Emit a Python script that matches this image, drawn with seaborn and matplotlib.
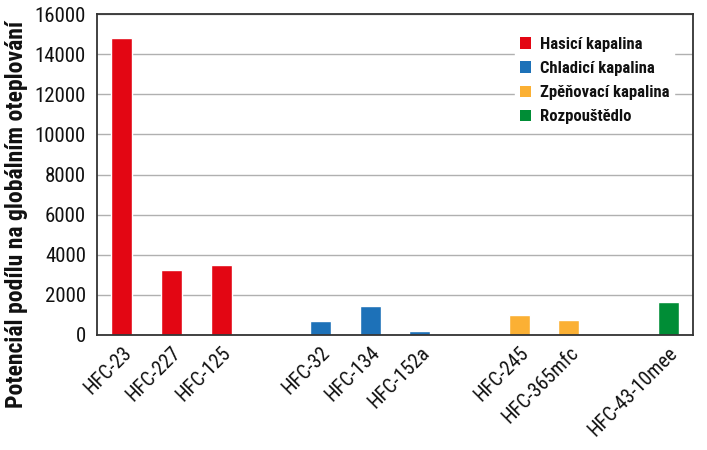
import matplotlib
matplotlib.use("Agg")
import matplotlib.pyplot as plt
import seaborn as sns
import pandas as pd
from matplotlib.patches import Patch

categories = ["HFC-23", "HFC-227", "HFC-125", " ", "HFC-32", "HFC-134", "HFC-152a",
              "  ", "HFC-245", "HFC-365mfc", "   ", "HFC-43-10mee"]
values = [14800, 3260, 3510, 0, 720, 1440, 180, 0, 1020, 770, 0, 1630]
groups = ["Hasicí kapalina", "Hasicí kapalina", "Hasicí kapalina", "Hasicí kapalina",
          "Chladicí kapalina", "Chladicí kapalina", "Chladicí kapalina", "Chladicí kapalina",
          "Zpěňovací kapalina", "Zpěňovací kapalina", "Zpěňovací kapalina",
          "Rozpouštědlo"]
group_names = ["Hasicí kapalina", "Chladicí kapalina", "Zpěňovací kapalina", "Rozpouštědlo"]
colors = ["#E30613", "#1D71B8", "#FBB034", "#008D36"]
yticks = [0, 2000, 4000, 6000, 8000, 10000, 12000, 14000, 16000]

sns.set_style("white")
plt.rcParams['font.family'] = ['Roboto Condensed', 'DejaVu Sans']

df = pd.DataFrame({"cat": categories, "val": values, "grp": groups})

fig = plt.figure(figsize=(7.07, 4.5), dpi=100)
ax = fig.add_axes([97/707, 1 - 335/450, 596/707, 321/450])
sns.barplot(data=df, x="cat", y="val", hue="grp", order=categories,
            hue_order=group_names, palette=colors, dodge=False, width=0.42,
            saturation=1, ax=ax, legend=False)

ax.set_ylim(0, 16000)
ax.set_xlim(-0.5, len(categories) - 0.5)
ax.set_yticks(yticks)
ax.set_yticklabels([str(v) for v in yticks], fontsize=15)
ax.yaxis.grid(True, color="#b0b0b0", linewidth=1)
ax.set_axisbelow(True)

# major ticks at boundaries, labels at centers
ax.set_xticks([i - 0.5 for i in range(len(categories) + 1)])
ax.set_xticklabels([])
ax.set_xticks(range(len(categories)), minor=True)
ax.set_xticklabels([c.strip() for c in categories], minor=True, rotation=45,
                   ha="right", rotation_mode="anchor", fontsize=14.5, color="#111111")
ax.tick_params(axis="x", which="major", length=6, width=1.2, color="#333333", direction="out")
ax.tick_params(axis="x", which="minor", length=0, pad=6)
ax.tick_params(axis="y", length=6, width=1.2, color="#333333", direction="out", pad=2,
               labelcolor="#111111")
ax.set_xlabel("")
ax.set_ylabel("Potenciál podílu na globálním oteplování", fontsize=17, fontweight="bold",
              color="#111111")
ax.yaxis.set_label_coords(-0.116, 0.375)

for s in ax.spines.values():
    s.set_visible(True)
    s.set_color("#333333")
    s.set_linewidth(1.3)

handles = [Patch(facecolor=c, edgecolor="none") for c in colors]
leg = ax.legend(handles, group_names, loc="upper left", bbox_to_anchor=(0.687, 0.97),
                frameon=True, fancybox=False, framealpha=1, edgecolor="white",
                prop={"weight": "bold", "size": 12}, handlelength=0.7, handleheight=0.7,
                handletextpad=0.5, labelspacing=0.55, borderpad=0.3)
for t in leg.get_texts():
    t.set_color("#111111")

fig.savefig("out.png", dpi=100)
